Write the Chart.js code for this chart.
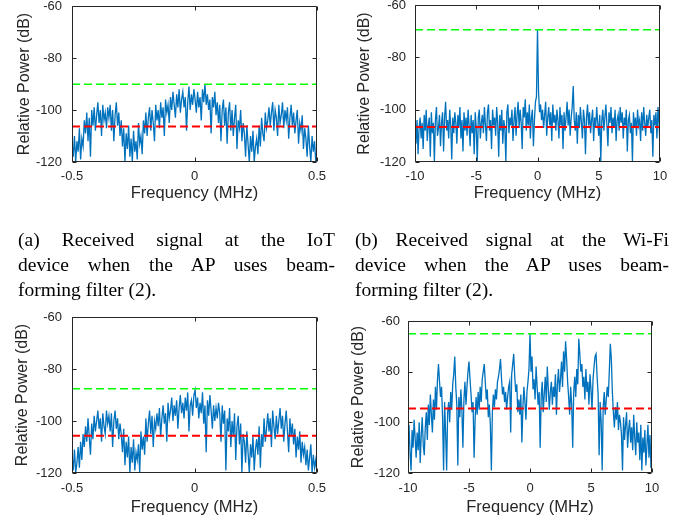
<!DOCTYPE html>
<html><head><meta charset="utf-8">
<script src="https://cdn.jsdelivr.net/npm/chart.js@4.4.0/dist/chart.umd.min.js"></script>
<style>
html,body{margin:0;padding:0;background:#fff;}
body{width:687px;height:525px;position:relative;overflow:hidden;}
canvas{position:absolute;}
.cap{position:absolute;font-family:"Liberation Serif","Times New Roman",serif;font-size:19.5px;line-height:25px;color:#000;}
.cap div{white-space:nowrap;}
.cap .j{text-align:justify;text-align-last:justify;white-space:normal;}
</style></head><body>
<canvas id="ca" width="335" height="210" style="left:0;top:0"></canvas>
<canvas id="cb" width="347" height="210" style="left:340px;top:0"></canvas>
<canvas id="cc" width="335" height="225" style="left:0;top:300px"></canvas>
<canvas id="cd" width="347" height="225" style="left:340px;top:300px"></canvas>
<div class="cap" style="left:18px;top:227px;width:317px">
  <div class="j">(a) Received signal at the IoT</div>
  <div class="j">device when the AP uses beam-</div>
  <div>forming filter (2).</div>
</div>
<div class="cap" style="left:355px;top:227px;width:314px">
  <div class="j">(b) Received signal at the Wi-Fi</div>
  <div class="j">device when the AP uses beam-</div>
  <div>forming filter (2).</div>
</div>
<script>
// ---------- data ----------
const freqA = [-0.5, 0.5];
const freqTicksA = [-0.5, 0, 0.5];
const powerA = [
-113,-118,-110,-120,-112,-116,-107,-119,-111,-114,
-104,-109,-101,-112,-103,-118,-100,-106,-99,-108,
-102,-97,-105,-100,-110,-98,-104,-101,-107,-99,
-103,-98,-108,-100,-112,-102,-97,-106,-101,-110,
-104,-114,-107,-120,-109,-115,-106,-118,-111,-120,
-108,-116,-112,-119,-105,-113,-110,-117,-104,-109,
-101,-110,-103,-99,-108,-100,-105,-112,-98,-104,
-100,-107,-97,-103,-99,-110,-96,-101,-98,-105,
-95,-100,-93,-98,-103,-94,-99,-92,-101,-96,
-93,-99,-95,-108,-97,-91,-100,-94,-98,-92,
-96,-101,-93,-99,-95,-104,-92,-97,-90,-98,
-94,-100,-96,-109,-95,-99,-93,-102,-97,-105,
-98,-112,-100,-96,-106,-99,-113,-101,-97,-108,
-100,-110,-103,-98,-115,-104,-107,-100,-112,-105,
-109,-118,-106,-113,-120,-110,-116,-108,-120,-114,
-111,-117,-106,-114,-103,-109,-112,-101,-107,-104,
-99,-106,-101,-97,-108,-100,-103,-110,-98,-105,
-102,-97,-107,-100,-104,-99,-111,-103,-98,-106,
-101,-109,-104,-100,-113,-105,-108,-102,-115,-107,
-111,-118,-106,-114,-120,-110,-116,-112,-120,-115];
const peakLineA = -90.1;
const floorLineA = -106.3;

const freqB = [-10, 10];
const freqTicksB = [-10, -5, 0, 5, 10];
const powerB = [
-101,-113,-104,-117,-107,-103,-111,-105,-115,-102,
-108,-100,-112,-106,-103,-118,-101,-109,-105,-120,
-104,-99,-110,-107,-102,-114,-105,-101,-116,-103,
-97,-108,-104,-111,-100,-106,-119,-103,-109,-101,
-105,-113,-102,-107,-99,-111,-104,-116,-101,-108,
-103,-110,-100,-106,-114,-102,-109,-104,-117,-101,
-107,-120,-103,-100,-111,-105,-102,-109,-99,-106,
-112,-101,-98,-108,-104,-115,-100,-106,-103,-110,
-99,-105,-118,-102,-108,-100,-113,-104,-107,-120,
-101,-98,-109,-103,-106,-100,-112,-104,-99,-110,
-102,-97,-107,-100,-105,-115,-99,-103,-96,-108,
-101,-106,-98,-111,-103,-100,-114,-104,-97,-95,
-69.5,
-93,-101,-98,-104,-100,-107,-102,-97,-110,
-103,-99,-106,-101,-112,-98,-105,-102,-108,-100,
-104,-111,-99,-106,-102,-115,-101,-108,-103,-97,
-106,-100,-110,-103,-99,-91,-104,-108,-101,-113,
-102,-107,-99,-105,-111,-100,-104,-117,-103,-98,
-106,-101,-109,-104,-100,-112,-103,-107,-99,-105,
-110,-102,-120,-104,-100,-108,-103,-98,-106,-114,
-101,-105,-99,-109,-103,-107,-100,-112,-104,-102,
-108,-99,-105,-101,-111,-103,-106,-100,-116,-104,
-102,-109,-105,-120,-101,-107,-103,-110,-100,-106,
-104,-112,-101,-108,-99,-105,-110,-102,-107,-103,
-100,-109,-104,-118,-102,-106,-101,-111,-99,-105,-114];
const peakLineB = -69.5;
const floorLineB = -106.6;

const freqC = [-0.5, 0.5];
const freqTicksC = [-0.5, 0, 0.5];
const powerC = [
-114,-119,-111,-120,-116,-110,-118,-108,-115,-105,
-110,-102,-108,-99,-106,-113,-101,-107,-98,-104,
-100,-96,-103,-99,-108,-97,-102,-105,-96,-101,
-98,-104,-97,-110,-100,-96,-103,-99,-107,-101,
-105,-112,-103,-117,-108,-114,-106,-120,-110,-116,
-107,-119,-112,-115,-109,-120,-104,-111,-106,-113,
-99,-108,-101,-96,-105,-98,-110,-100,-103,-97,
-102,-95,-106,-99,-94,-101,-97,-108,-93,-99,
-96,-91,-100,-94,-98,-92,-103,-95,-90,-97,
-93,-99,-91,-96,-89,-104,-94,-92,-98,-90,
-88,-95,-91,-99,-93,-97,-89,-101,-94,-112,
-92,-98,-90,-96,-103,-94,-100,-95,-99,-93,
-97,-108,-94,-101,-96,-119,-99,-104,-95,-110,
-100,-106,-97,-115,-102,-98,-109,-101,-120,-105,
-108,-116,-104,-112,-120,-109,-114,-106,-119,-111,
-107,-113,-102,-118,-105,-110,-99,-108,-103,-97,
-104,-99,-110,-96,-102,-107,-98,-105,-100,-95,
-103,-98,-108,-101,-96,-104,-112,-99,-106,-101,
-109,-103,-114,-106,-111,-104,-116,-108,-113,-110,
-117,-111,-119,-114,-109,-120,-113,-118,-115,-120];
const peakLineC = -87.6;
const floorLineC = -105.7;

const freqD = [-10, 10];
const freqTicksD = [-10, -5, 0, 5, 10];
const powerD = [
-108,-101,-112,-119,-103,-110,-99,-106,-114,-104,
-111,-100,-116,-105,-98,-109,-113,-102,-96,-107,
-93,-101,-89,-97,-104,-91,-99,-86,-95,-83,
-77,-84,-90,-86,-98,-119,-92,-104,-119,-96,
-92,-100,-88,-95,-85,-81,-74,-86,-93,-117,
-90,-98,-87,-95,-110,-91,-84,-93,-86,-80,
-76,-83,-89,-96,-92,-114,-99,-90,-97,-88,
-95,-86,-92,-83,-80,-77,-84,-91,-87,-98,
-93,-101,-119,-96,-89,-94,-87,-91,-84,-82,
-79,-75,-83,-89,-86,-92,-88,-95,-90,-86,
-84,-104,-81,-77,-73,-82,-88,-85,-96,-91,
-97,-89,-108,-94,-86,-92,-99,-88,-84,-79,
-65,-80,-74,-87,-83,-91,-78,-86,-93,-88,
-110,-90,-84,-96,-89,-82,-92,-78,-87,-95,
-88,-84,-93,-86,-90,-81,-97,-85,-79,-88,
-83,-76,-86,-72,-80,-68,-75,-84,-90,-97,
-86,-93,-110,-88,-82,-90,-79,-85,-67,-73,
-80,-77,-86,-82,-91,-79,-88,-84,-93,-81,
-87,-95,-83,-78,-74,-73,-82,-89,-113,-92,
-100,-119,-94,-88,-97,-91,-86,-90,-80,-69,
-75,-88,-96,-102,-94,-99,-92,-103,-97,-100,
-105,-119,-98,-107,-101,-96,-110,-103,-99,-108,
-102,-111,-97,-106,-113,-100,-108,-104,-115,-101,
-119,-106,-112,-103,-117,-109,-101,-114,-105,-118,-108];
const peakLineD = -65.0;
const floorLineD = -94.5;

const powerTicks = [-120, -100, -80, -60];
const xTitle = 'Frequency (MHz)';
const yTitle = 'Relative Power (dB)';

// ---------- drawing ----------
const AX = '#262626';
const FONT = 'Liberation Sans, Arial, sans-serif';
const framePlugin = {
  id: 'frame',
  afterDatasetsDraw(chart) {
    const {ctx, chartArea: {left, right, top, bottom}, scales: {x, y}} = chart;
    ctx.save();
    ctx.strokeStyle = AX; ctx.lineWidth = 1;
    const L = Math.round(left) + 0.5, R = Math.round(right) - 0.5;
    const T = Math.round(top) + 0.5, B = Math.round(bottom) - 0.5;
    ctx.beginPath();
    ctx.rect(L, T, R - L, B - T);
    const tl = 4;
    x.ticks.forEach(t => {
      const px = Math.round(x.getPixelForValue(t.value)) + 0.5;
      ctx.moveTo(px, B); ctx.lineTo(px, B - tl);
      ctx.moveTo(px, T); ctx.lineTo(px, T + tl);
    });
    y.ticks.forEach(t => {
      const py = Math.round(y.getPixelForValue(t.value)) + 0.5;
      ctx.moveTo(L, py); ctx.lineTo(L + tl, py);
      ctx.moveTo(R, py); ctx.lineTo(R - tl, py);
    });
    ctx.stroke();
    ctx.restore();
  }
};

function zeroPad(s) { s.paddingTop = 0; s.paddingBottom = 0; s.paddingLeft = 0; s.paddingRight = 0; }

function makePanel(id, range, ticksX, values, peak, floor, g) {
  const n = values.length;
  const pts = values.map((v, i) => ({x: range[0] + i * (range[1] - range[0]) / (n - 1), y: v}));
  new Chart(document.getElementById(id), {
    type: 'line',
    data: {
      datasets: [
        {data: [{x: range[0], y: peak}, {x: range[1], y: peak}], borderColor: '#00ff00', borderWidth: 1.5, borderDash: [8, 4], pointRadius: 0},
        {data: [{x: range[0], y: floor}, {x: range[1], y: floor}], borderColor: '#ff0000', borderWidth: 2, borderDash: [8, 4], pointRadius: 0},
        {data: pts, borderColor: '#0072BD', borderWidth: 1.3, pointRadius: 0, tension: 0}
      ]
    },
    options: {
      responsive: false, animation: false, devicePixelRatio: 1,
      layout: {padding: {left: 0, right: g.right, top: g.top, bottom: 0}},
      plugins: {legend: {display: false}, tooltip: {enabled: false}},
      scales: {
        x: {
          type: 'linear', min: range[0], max: range[1],
          afterBuildTicks: s => { s.ticks = ticksX.map(v => ({value: v})); },
          grid: {display: false, drawTicks: false}, border: {display: false},
          ticks: {color: AX, font: {family: FONT, size: 13}, padding: g.xTickPad, maxRotation: 0, autoSkip: false},
          title: {display: true, text: xTitle, color: AX, font: {family: FONT, size: 16.5}, padding: {top: 0, bottom: g.xTitlePad}},
          afterFit: s => { s.height = g.xH; zeroPad(s); }
        },
        y: {
          type: 'linear', min: -120, max: -60,
          afterBuildTicks: s => { s.ticks = powerTicks.map(v => ({value: v})); },
          grid: {display: false, drawTicks: false}, border: {display: false},
          ticks: {color: AX, font: {family: FONT, size: 13}, padding: g.yTickPad},
          title: {display: true, text: yTitle, color: AX, font: {family: FONT, size: 16}, padding: {top: g.yTitlePad, bottom: 0}},
          afterFit: s => { s.width = g.yW; zeroPad(s); }
        }
      }
    },
    plugins: [framePlugin]
  });
}

makePanel('ca', freqA, freqTicksA, powerA, peakLineA, floorLineA,
  {right: 18, top: 6, xH: 48, yW: 72, xTickPad: 7, yTickPad: 10, xTitlePad: 7, yTitlePad: 15});
makePanel('cb', freqB, freqTicksB, powerB, peakLineB, floorLineB,
  {right: 27, top: 5, xH: 48, yW: 75, xTickPad: 7, yTickPad: 9, xTitlePad: 7, yTitlePad: 15});
makePanel('cc', freqC, freqTicksC, powerC, peakLineC, floorLineC,
  {right: 18, top: 17, xH: 52, yW: 72, xTickPad: 8, yTickPad: 10, xTitlePad: 8, yTitlePad: 13});
makePanel('cd', freqD, freqTicksD, powerD, peakLineD, floorLineD,
  {right: 35, top: 21, xH: 52, yW: 68, xTickPad: 8, yTickPad: 8, xTitlePad: 8, yTitlePad: 9});
</script>
</body></html>
